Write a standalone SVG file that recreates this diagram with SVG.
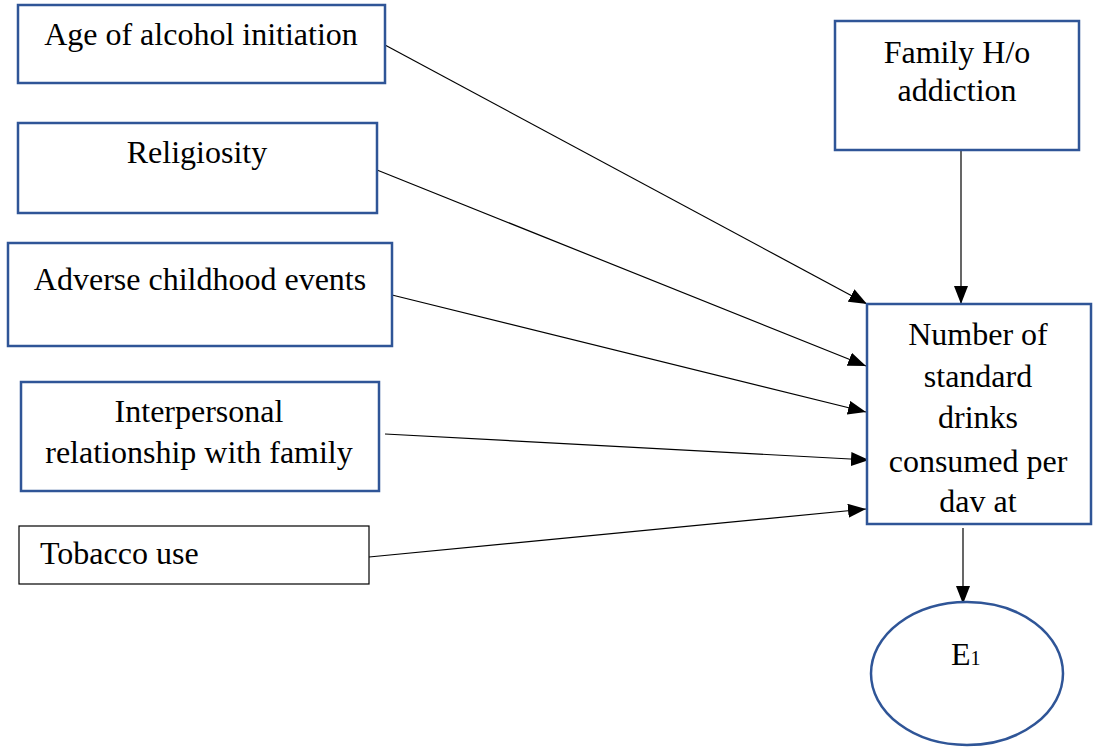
<svg xmlns="http://www.w3.org/2000/svg" width="1093" height="748" viewBox="0 0 1093 748">
<style>
.box{fill:#fff;stroke:#2f5597;stroke-width:2.5}
.bbox{fill:#fff;stroke:#000;stroke-width:1.2}
.t{font-family:"Liberation Serif","Times New Roman",serif;font-size:32px;fill:#000}
.c{text-anchor:middle}
.ln{stroke:#000;stroke-width:1.2;fill:none;marker-end:url(#ah)}
</style>
<defs>
<marker id="ah" viewBox="0 0 18 14" refX="18" refY="7" markerWidth="18" markerHeight="14" markerUnits="userSpaceOnUse" orient="auto">
<path d="M0,0 L18,7 L0,14 Z" fill="#000"/>
</marker>
</defs>
<rect width="1093" height="748" fill="#fff"/>
<g id="connectors">
<line class="ln" x1="385" y1="45" x2="867" y2="304"/>
<line class="ln" x1="377" y1="170" x2="866" y2="366"/>
<line class="ln" x1="392" y1="295" x2="866" y2="412"/>
<line class="ln" x1="385" y1="434" x2="869" y2="460"/>
<line class="ln" x1="369" y1="557" x2="866" y2="509"/>
<line class="ln" x1="961" y1="150" x2="961" y2="304" style="stroke:#404040;stroke-width:1.6"/>
<line class="ln" x1="963" y1="528" x2="963" y2="604"/>
</g>
<g id="age">
<rect class="box" x="18" y="5" width="367" height="78"/>
<text class="t c" x="201" y="45">Age of alcohol initiation</text>
</g>
<g id="religiosity">
<rect class="box" x="18" y="123" width="359" height="90"/>
<text class="t c" x="197" y="163">Religiosity</text>
</g>
<g id="adverse">
<rect class="box" x="8" y="243" width="384" height="103"/>
<text class="t c" x="200" y="290">Adverse childhood events</text>
</g>
<g id="interpersonal">
<rect class="box" x="21" y="382" width="358" height="109"/>
<text class="t c" x="199" y="422">Interpersonal</text>
<text class="t c" x="199" y="463">relationship with family</text>
</g>
<g id="tobacco">
<rect class="bbox" x="19" y="526" width="350" height="58"/>
<text class="t" x="40" y="564">Tobacco use</text>
</g>
<g id="family">
<rect class="box" x="835" y="21" width="244" height="129"/>
<text class="t c" x="957" y="63">Family H/o</text>
<text class="t c" x="957" y="101">addiction</text>
</g>
<g id="drinks">
<rect class="box" x="867" y="304" width="224" height="220"/>
<text class="t c" x="978" y="345">Number of</text>
<text class="t c" x="978" y="387">standard</text>
<text class="t c" x="978" y="428">drinks</text>
<text class="t c" x="978" y="472">consumed per</text>
<text class="t c" x="978" y="512">dav at</text>
</g>
<g id="e1">
<ellipse cx="967" cy="673.500" rx="96" ry="71.500" fill="#fff" stroke="#2f5597" stroke-width="2.5"/>
<text class="t" x="951" y="665">E<tspan font-size="20">1</tspan></text>
</g>
</svg>
